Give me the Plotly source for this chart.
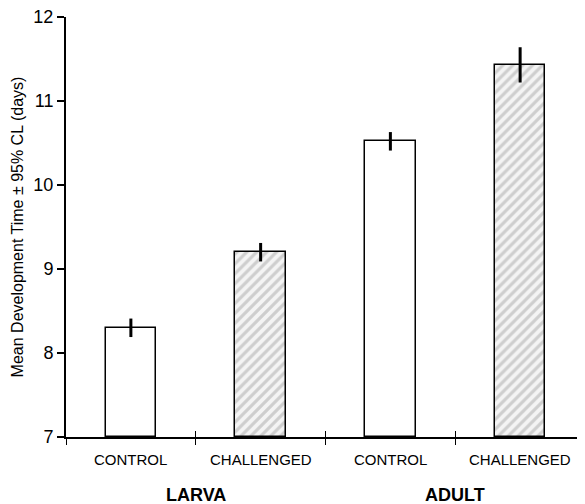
import plotly.graph_objects as go

categories = ["CONTROL", "CHALLENGED", "CONTROL", "CHALLENGED"]
means = [8.30, 9.20, 10.52, 11.43]
ci95 = [0.11, 0.11, 0.11, 0.21]
groups = ["LARVA", "ADULT"]
group_pos = [0.5, 2.5]
yticks = [7, 8, 9, 10, 11, 12]
boundaries = [-0.5, 0.5, 1.5, 2.5]

x_idx = list(range(len(categories)))
challenged = [c == "CHALLENGED" for c in categories]

fig = go.Figure()
fig.add_trace(go.Bar(
    x=x_idx,
    y=[m - 7 for m in means],
    base=7,
    width=0.39,
    marker=dict(
        color="white",
        line=dict(color="black", width=1.5),
        pattern=dict(
            shape=["/" if c else "" for c in challenged],
            fgcolor="#a8a8a8",
            bgcolor="#f4f4f4",
            size=7,
            solidity=0.45,
        ),
    ),
    error_y=dict(type="data", array=ci95, arrayminus=ci95, color="black",
                 thickness=3, width=0),
    hoverinfo="skip",
))
# invisible helper trace so the overlay axis (inside tick halves) is drawn
fig.add_trace(go.Scatter(x=[None], y=[None], xaxis="x2", yaxis="y",
                         mode="markers", hoverinfo="skip", showlegend=False))

# page body has an 8px default margin: size the figure to fit the window
fig.update_layout(
    width=577, height=496,
    margin=dict(l=58, r=0, t=9, b=67, autoexpand=False),
    plot_bgcolor="white", paper_bgcolor="white",
    font=dict(family="Liberation Sans, Arial, sans-serif", color="black"),
    showlegend=False,
    bargap=0,
    xaxis=dict(
        range=[-0.5, 3.5],
        tickmode="array",
        tickvals=boundaries,
        ticktext=[""] * len(boundaries),
        ticks="outside", ticklen=6, tickwidth=1.2, tickcolor="black",
        showline=True, linecolor="black", linewidth=2,
        showgrid=False, zeroline=False, automargin=False,
    ),
    xaxis2=dict(
        overlaying="x", anchor="y", side="bottom",
        range=[-0.5, 3.5], tickmode="array", tickvals=boundaries,
        ticktext=[""] * len(boundaries),
        ticks="inside", ticklen=6, tickwidth=1.2, tickcolor="black",
        showline=False, showgrid=False, zeroline=False, automargin=False,
    ),
)
fig.update_yaxes(
    range=[7, 12],
    tickvals=yticks,
    ticks="outside", ticklen=7, tickwidth=1.5, tickcolor="black",
    showline=True, linecolor="black", linewidth=2,
    showgrid=False, zeroline=False, automargin=False,
    ticklabeloverflow="allow",
    tickfont=dict(size=18),
    title=dict(text="Mean Development Time ± 95% CL (days)", font=dict(size=16), standoff=6),
)

for i, c in enumerate(categories):
    fig.add_annotation(x=i, y=0, xref="x", yref="paper", yshift=-22, yanchor="middle",
                       text=c, showarrow=False, font=dict(size=15))
for g, p in zip(groups, group_pos):
    fig.add_annotation(x=p, y=0, xref="x", yref="paper", yshift=-58, yanchor="middle",
                       text="<b>" + g + "</b>", showarrow=False, font=dict(size=18))

fig.write_html("out.html")
